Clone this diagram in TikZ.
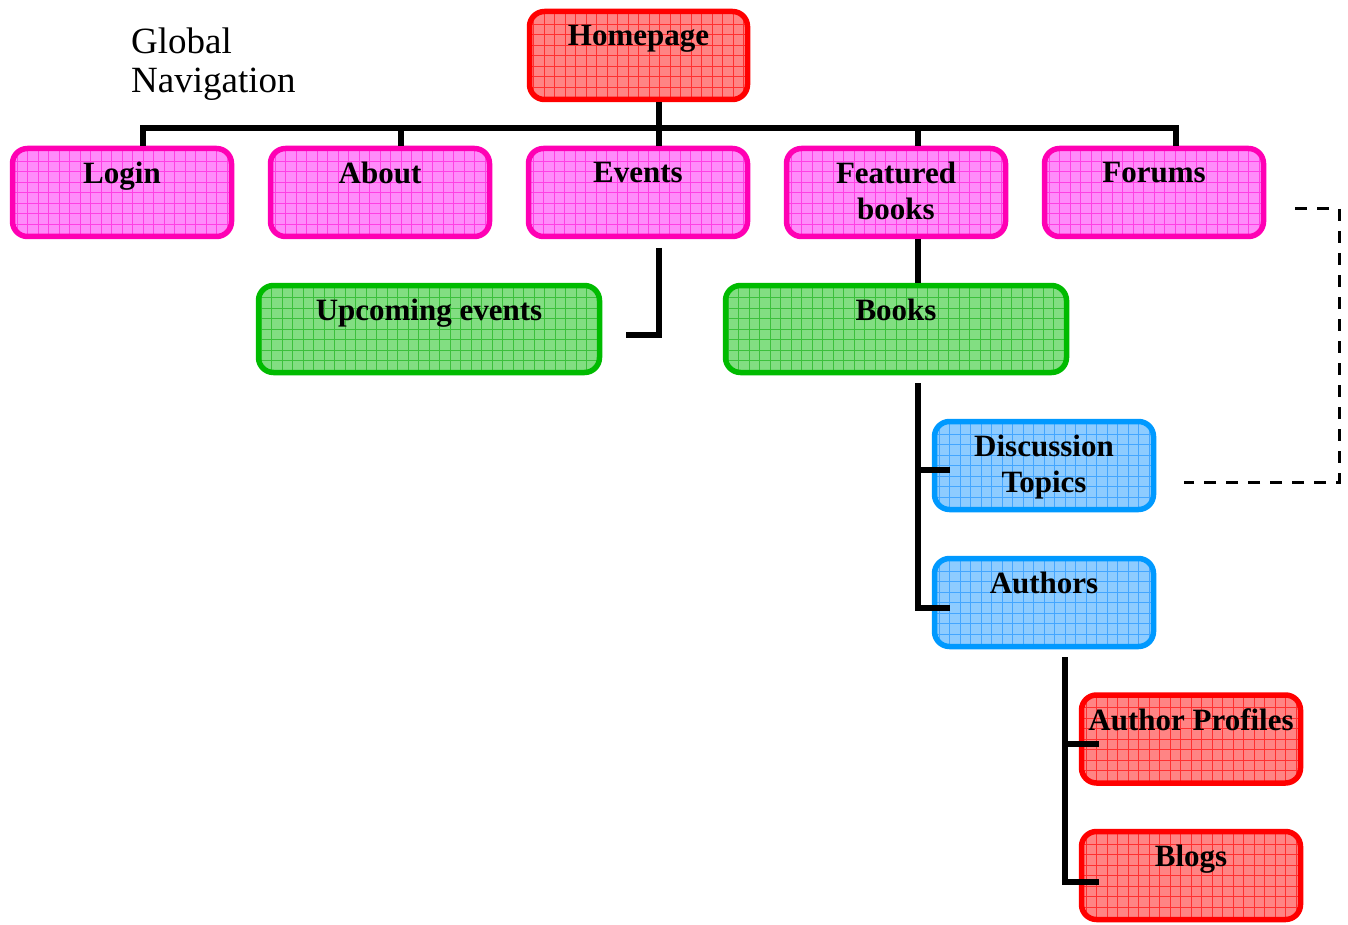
\documentclass[tikz,border=0pt]{standalone}
\usepackage{fontspec}
\setmainfont{Liberation Serif}
\definecolor{redB}{HTML}{FF0000}
\definecolor{redF}{HTML}{FF8484}
\definecolor{redG}{HTML}{FF3030}
\definecolor{magB}{HTML}{FF00B4}
\definecolor{magF}{HTML}{FF8CFA}
\definecolor{magG}{HTML}{FF40E4}
\definecolor{grnB}{HTML}{00BB00}
\definecolor{grnF}{HTML}{82DE82}
\definecolor{grnG}{HTML}{3CC03C}
\definecolor{bluB}{HTML}{0099FF}
\definecolor{bluF}{HTML}{8ECCFF}
\definecolor{bluG}{HTML}{44A6FF}
\newcommand\boxfont{\fontsize{31}{36}\selectfont\bfseries}
\newcommand\navfont{\fontsize{37}{39}\selectfont}
\tikzset{
  box/.style={draw=#1B, fill=#1F, line width=5.5pt, rounded corners=15pt, inner sep=0pt,
    path picture={\draw[#1G, line width=0.6pt, step=10.5pt]
      (path picture bounding box.south west) grid (path picture bounding box.north east);}},
  smallbox/.style={minimum width=219pt, minimum height=88pt},
  widebox/.style={minimum width=341pt, minimum height=87pt},
  lbl/.style={font=\boxfont, inner sep=0pt, anchor=north, align=center, text=black},
  conn/.style={line width=6pt, draw=black},
  dashline/.style={line width=3pt, draw=black, dash pattern=on 12pt off 10pt},
}
\begin{document}
\begin{tikzpicture}[x=1pt,y=-1pt]
\useasboundingbox (0,0) rectangle (1348,925);
% title
\node[font=\navfont, inner sep=0pt, anchor=north west, align=left] (nav) at (131,27.5) {Global\\Navigation};
% boxes
\node[box=red, minimum width=218pt, minimum height=88pt] (home) at (638.5,55.5) {};
\node[box=mag, smallbox] (login) at (122,192.5) {};
\node[box=mag, smallbox] (about) at (380,192.5) {};
\node[box=mag, smallbox] (events) at (638,192.5) {};
\node[box=mag, smallbox] (feat) at (896,192.5) {};
\node[box=mag, smallbox] (forums) at (1154,192.5) {};
\node[box=grn, widebox] (upc) at (429,329) {};
\node[box=grn, widebox] (books) at (896,329) {};
\node[box=blu, smallbox] (disc) at (1044,465.5) {};
\node[box=blu, smallbox] (auth) at (1044,602.5) {};
\node[box=red, smallbox] (prof) at (1191,739) {};
\node[box=red, smallbox] (blogs) at (1191,875.5) {};
% labels
\node[lbl] (homeT) at (638.5,25) {Homepage};
\node[lbl] (loginT) at (122,162) {Login};
\node[lbl] (aboutT) at (380,162) {About};
\node[lbl] (eventsT) at (638,162) {Events};
\node[lbl] (featT) at (896,162) {Featured\\books};
\node[lbl] (forumsT) at (1154,162) {Forums};
\node[lbl] (upcT) at (429,299) {Upcoming events};
\node[lbl] (booksT) at (896,299) {Books};
\node[lbl] (discT) at (1044,435) {Discussion\\Topics};
\node[lbl] (authT) at (1044,572) {Authors};
\node[lbl] (profT) at (1191,708) {Author Profiles};
\node[lbl] (blogsT) at (1191,845) {Blogs};
% connector coordinates
\coordinate (b0) at (659,128);
\coordinate (b1) at (143,128);
\coordinate (b2) at (401,128);
\coordinate (b4) at (918,128);
\coordinate (b5) at (1176,128);
\coordinate (e1) at (659,248);
\coordinate (e2) at (659,335);
\coordinate (e3) at (626,335);
\coordinate (k1) at (918,383);
\coordinate (k2) at (918,470);
\coordinate (k3) at (918,608);
\coordinate (k4) at (950,608);
\coordinate (k5) at (950,470);
\coordinate (m1) at (1065,657);
\coordinate (m2) at (1065,744);
\coordinate (m3) at (1065,882);
\coordinate (m4) at (1099,882);
\coordinate (m5) at (1099,744);
\coordinate (d1) at (1295,209);
\coordinate (d2) at (1339,209);
\coordinate (d3) at (1339,482);
\coordinate (d4) at (1184,482);
% connectors
\draw[conn] (b0 |- home.south) -- (b0);
\draw[conn] (b1 |- login.north) -- (b1) -- (b5) -- (b5 |- forums.north);
\draw[conn] (b2) -- (b2 |- about.north);
\draw[conn] (b0) -- (b0 |- events.north);
\draw[conn] (b4) -- (b4 |- feat.north);
\draw[conn] (e1) -- (e2) -- (e3);
\draw[conn] (b4 |- feat.south) -- (b4 |- books.north);
\draw[conn] (k1) -- (k3) -- (k4);
\draw[conn] (k2) -- (k5);
\draw[conn] (m1) -- (m3) -- (m4);
\draw[conn] (m2) -- (m5);
\draw[dashline] (d1) -- (d2) -- (d3) -- (d4);
\end{tikzpicture}
\end{document}
